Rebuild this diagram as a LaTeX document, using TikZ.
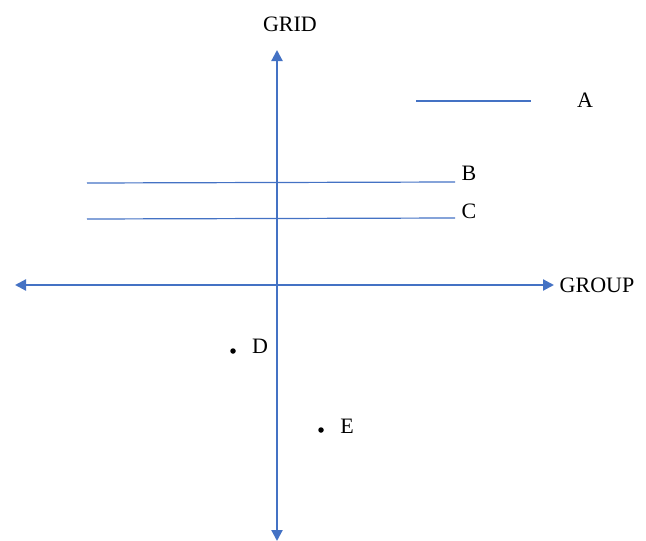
\documentclass[tikz,border=0pt]{standalone}
\usepackage{fontspec}
\setmainfont{Liberation Serif}
\usetikzlibrary{arrows.meta}
\definecolor{axisblue}{HTML}{4472C4}
\tikzset{
  axis/.style={draw=axisblue, line width=2.2pt, {Triangle[length=11pt,width=11pt]}-{Triangle[length=11pt,width=11pt]}},
  seg/.style={draw=axisblue, line width=1.2pt},
  lbl/.style={font=\fontsize{22}{24}\selectfont, inner sep=0pt},
  pt/.style={circle, fill=black, inner sep=0pt, minimum size=5.5pt}
}
\begin{document}
\begin{tikzpicture}[x=1pt,y=-1pt]
\useasboundingbox (0,0) rectangle (646,541);
\coordinate (vtop) at (277,50);
\coordinate (vbot) at (277,541);
\coordinate (hl) at (15,285);
\coordinate (hr) at (554,285);
\draw[axis] (vbot) -- (vtop);
\draw[axis] (hl) -- (hr);
\coordinate (a1) at (416,101); \coordinate (a2) at (531,101);
\coordinate (b1) at (87,183); \coordinate (b2) at (455,182);
\coordinate (c1) at (87,219); \coordinate (c2) at (455,218);
\draw[seg] (a1) -- (a2);
\draw[seg] (b1) -- (b2);
\draw[seg] (c1) -- (c2);
\node[lbl] (grid) at (290,24) {GRID};
\node[lbl] (group) at (597,285) {GROUP};
\node[lbl] (A) at (585,100) {A};
\node[lbl] (B) at (469,173) {B};
\node[lbl] (C) at (469,211) {C};
\node[lbl] (D) at (260,346) {D};
\node[lbl] (E) at (347,426) {E};
\node[pt] (dd) at (233,351) {};
\node[pt] (de) at (321,430) {};
\end{tikzpicture}
\end{document}
